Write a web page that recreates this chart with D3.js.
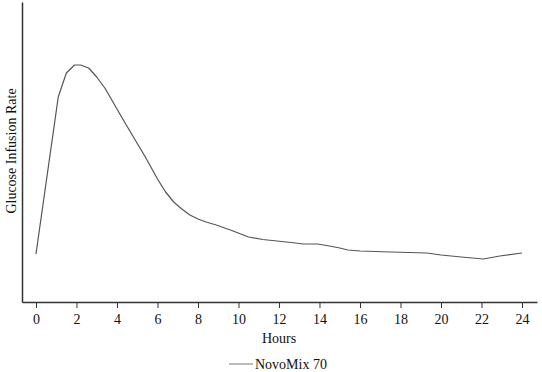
<!DOCTYPE html>
<html>
<head>
<meta charset="utf-8">
<script src="https://cdn.jsdelivr.net/npm/d3@7"></script>
<style>
  body { margin: 0; background: #fff; }
  text { font-family: "Liberation Serif", "Times New Roman", serif; fill: #111; }
</style>
</head>
<body>
<svg id="chart" width="542" height="372"></svg>
<script>
const hours = [0, 1.1, 1.5, 1.9, 2.2, 2.6, 3.0, 3.4, 4.4, 5.4, 6.0, 6.4, 6.8, 7.2, 7.6, 8.0, 8.4, 8.9, 9.6, 10.5, 11.2, 11.9, 12.6, 13.2, 13.9, 14.5, 15.0, 15.4, 16.0, 17.5, 19.3, 20.0, 21.0, 22.1, 22.9, 24];
const gir   = [0.96, 4.10, 4.58, 4.74, 4.74, 4.68, 4.50, 4.28, 3.58, 2.90, 2.46, 2.20, 2.00, 1.86, 1.74, 1.66, 1.60, 1.54, 1.44, 1.30, 1.25, 1.22, 1.19, 1.16, 1.16, 1.12, 1.08, 1.04, 1.02, 1.00, 0.98, 0.94, 0.90, 0.86, 0.92, 0.98];
const xTicks = [0, 2, 4, 6, 8, 10, 12, 14, 16, 18, 20, 22, 24];
const seriesName = "NovoMix 70";
const xLabel = "Hours";
const yLabel = "Glucose Infusion Rate";

const svg = d3.select("#chart");
const x = d3.scaleLinear().domain([-0.69, 24.74]).range([22, 537]);
const y = d3.scaleLinear().domain([0, 6]).range([302, 2]);

const axisColor = "#333";

// x axis
const xa = svg.append("g").attr("transform", "translate(0,302)")
  .call(d3.axisBottom(x).tickValues(xTicks).tickSize(6).tickSizeOuter(0).tickPadding(6));
xa.select(".domain").attr("stroke", axisColor).attr("stroke-width", 1.5);
xa.selectAll(".tick line").attr("stroke", axisColor).attr("stroke-width", 1);
xa.selectAll(".tick text").style("font-family", '"Liberation Serif", serif').style("font-size", "14px").attr("fill", "#111");

// y axis (no ticks)
const ya = svg.append("g").attr("transform", "translate(22,0)")
  .call(d3.axisLeft(y).tickValues([]).tickSizeOuter(0));
ya.select(".domain").attr("stroke", axisColor).attr("stroke-width", 1.5);

// line
const line = d3.line().x((d, i) => x(hours[i])).y(d => y(d)).curve(d3.curveLinear);
svg.append("path").datum(gir).attr("d", line)
  .attr("fill", "none").attr("stroke", "#555").attr("stroke-width", 1.2).attr("stroke-linejoin", "round");

// labels
svg.append("text").attr("x", 279).attr("y", 343).attr("text-anchor", "middle")
  .style("font-size", "14px").text(xLabel);
svg.append("text").attr("transform", "translate(16,151) rotate(-90)").attr("text-anchor", "middle")
  .style("font-size", "14px").text(yLabel);

// legend
svg.append("line").attr("x1", 229).attr("x2", 253).attr("y1", 364).attr("y2", 364)
  .attr("stroke", "#777").attr("stroke-width", 1);
svg.append("text").attr("x", 255).attr("y", 369).style("font-size", "14px").text(seriesName);
</script>
</body>
</html>
